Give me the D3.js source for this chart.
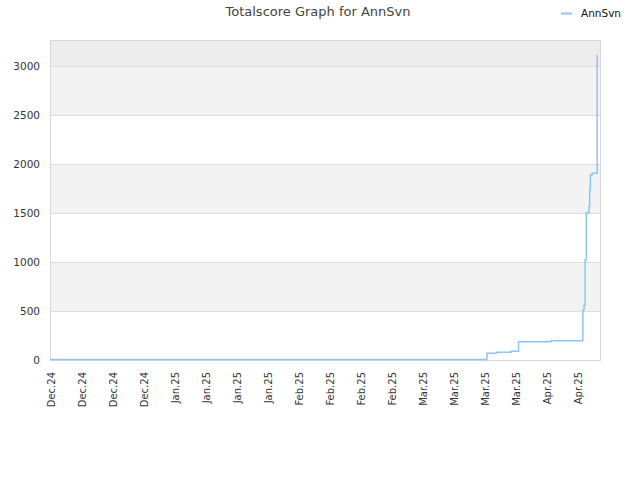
<!DOCTYPE html>
<html>
<head>
<meta charset="utf-8">
<script src="https://cdn.jsdelivr.net/npm/d3@7"></script>
<style>
  body { margin: 0; background: #fff; }
  text { font-family: "DejaVu Sans", sans-serif; }
</style>
</head>
<body>
<svg id="chart" width="640" height="480"></svg>
<script>
// data
const seriesName = "AnnSvn";
const scoreTimes = [
  "2024-12-10T00:00", "2025-03-18T14:00", "2025-03-20T17:00", "2025-03-24T00:00",
  "2025-03-25T17:00", "2025-04-02T00:00", "2025-04-09T05:00", "2025-04-09T12:00",
  "2025-04-09T17:00", "2025-04-10T00:00", "2025-04-10T14:00", "2025-04-10T18:00",
  "2025-04-10T22:00", "2025-04-11T07:00", "2025-04-12T10:00", "2025-04-12T10:30"
];
const scoreValues = [5, 68, 78, 90, 187, 197, 510, 560, 1020, 1503, 1565, 1735, 1888, 1905, 1922, 3112];
const yTicks = [0, 500, 1000, 1500, 2000, 2500, 3000];
const xTickDates = [
  "2024-12-10", "2024-12-17", "2024-12-24", "2024-12-31",
  "2025-01-07", "2025-01-14", "2025-01-21", "2025-01-28",
  "2025-02-04", "2025-02-11", "2025-02-18", "2025-02-25",
  "2025-03-04", "2025-03-11", "2025-03-18", "2025-03-25",
  "2025-04-01", "2025-04-08"
];

const parse = d3.timeParse("%Y-%m-%dT%H:%M");
const parseDay = d3.timeParse("%Y-%m-%d");
const data = scoreTimes.map((t, i) => ({ date: parse(t), value: scoreValues[i] }));
const ticks = xTickDates.map(parseDay);

const svg = d3.select("#chart");
const margin = { left: 50, right: 600, top: 40, bottom: 360 };

const x = d3.scaleTime()
  .domain([parseDay("2024-12-10"), parse("2025-04-13T02:00")])
  .range([margin.left, margin.right]);
const y = d3.scaleLinear()
  .domain([0, 3265])
  .range([margin.bottom, margin.top]);

// background bands
const bands = [];
for (let v = 0; v < 3265; v += 500) bands.push(v);
svg.append("g").selectAll("rect")
  .data(bands)
  .join("rect")
    .attr("x", margin.left)
    .attr("width", margin.right - margin.left)
    .attr("y", d => y(Math.min(d + 500, 3265)))
    .attr("height", d => y(d) - y(Math.min(d + 500, 3265)))
    .attr("fill", d => d >= 3000 ? "#ededed" : (d / 500) % 2 ? "#f3f3f3" : "#ffffff");

// grid lines
svg.append("g").selectAll("line")
  .data(yTicks.slice(1))
  .join("line")
    .attr("x1", margin.left).attr("x2", margin.right)
    .attr("y1", d => y(d) + 0.5).attr("y2", d => y(d) + 0.5)
    .attr("stroke", "#dddddd");

// frame
svg.append("rect")
  .attr("x", margin.left + 0.5).attr("y", margin.top + 0.5)
  .attr("width", margin.right - margin.left)
  .attr("height", margin.bottom - margin.top)
  .attr("fill", "none")
  .attr("stroke", "#d8d8d8");

// y axis labels
const yAxis = svg.append("g")
  .attr("transform", `translate(${margin.left},0)`)
  .call(d3.axisLeft(y).tickValues(yTicks).tickSize(0).tickPadding(10).tickFormat(d3.format("d")));
yAxis.select(".domain").remove();
yAxis.selectAll("text").attr("font-size", 10.5).attr("fill", "#333");

// x axis labels
const xAxis = svg.append("g")
  .attr("transform", `translate(0,${margin.bottom})`)
  .call(d3.axisBottom(x).tickValues(ticks).tickSize(0).tickFormat(d3.timeFormat("%b.%y")));
xAxis.select(".domain").remove();
xAxis.selectAll("text")
  .attr("font-size", 10)
  .attr("fill", "#333")
  .attr("text-anchor", "end")
  .attr("x", 0)
  .attr("y", 0)
  .attr("dy", 0)
  .attr("transform", "translate(4,12) rotate(-90)");

// line
const line = d3.line()
  .x(d => x(d.date))
  .y(d => y(d.value))
  .curve(d3.curveStepAfter);
svg.append("path")
  .datum(data)
  .attr("d", line)
  .attr("fill", "none")
  .attr("stroke", "#90c4f5")
  .attr("stroke-width", 1.5);

// title
svg.append("text")
  .attr("x", 318).attr("y", 16)
  .attr("text-anchor", "middle")
  .attr("font-size", 13)
  .attr("fill", "#444")
  .text("Totalscore Graph for " + seriesName);

// legend
svg.append("line")
  .attr("x1", 561).attr("x2", 572)
  .attr("y1", 13.5).attr("y2", 13.5)
  .attr("stroke", "#90c4f5").attr("stroke-width", 2);
svg.append("text")
  .attr("x", 581).attr("y", 17)
  .attr("font-size", 10.5)
  .attr("fill", "#111")
  .text(seriesName);
</script>
</body>
</html>
